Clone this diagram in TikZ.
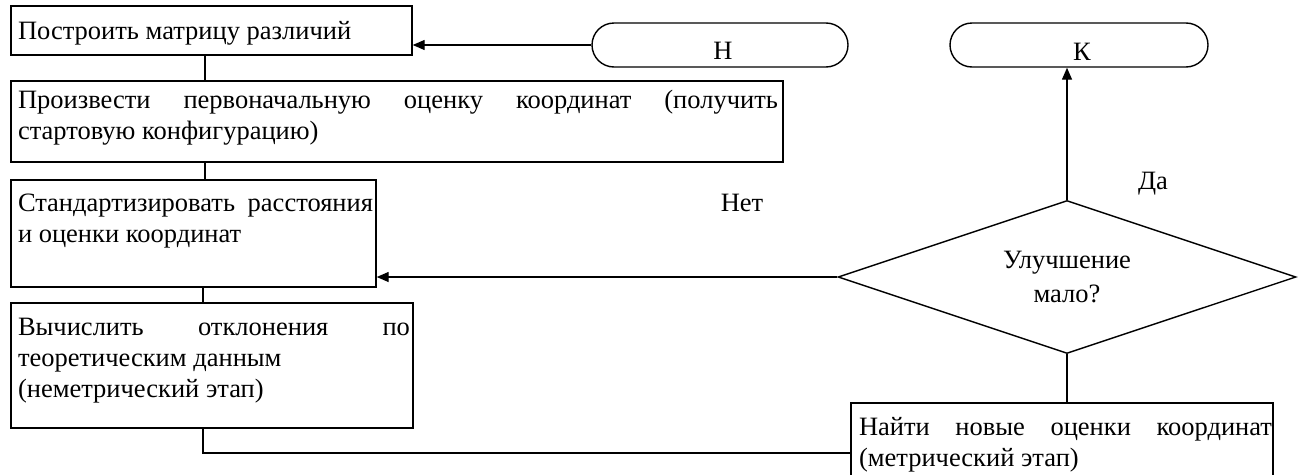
\documentclass[tikz,border=0pt]{standalone}
\usepackage{fontspec}
\setmainfont{Liberation Serif}
\usetikzlibrary{positioning,arrows.meta,shapes.geometric,fit}

\begin{document}
\begin{tikzpicture}[
  x=1pt, y=-1pt,
  line width=1.4pt,
  box/.style={draw, rectangle, inner sep=0pt},
  term/.style={draw, rectangle, rounded corners=22pt, inner sep=0pt},
  txt/.style={anchor=north west, inner sep=0pt, align=justify,
              font=\fontsize{26.5}{31}\selectfont},
  lbl/.style={anchor=base, inner sep=0pt, font=\fontsize{26.5}{31}\selectfont},
  cond/.style={draw, diamond, aspect=3, inner sep=0pt, minimum width=458pt,
               minimum height=153pt, align=center, font=\fontsize{26.5}{34}\selectfont},
  arrow/.style={-{Triangle[length=12pt,width=10pt]}}
]
  \useasboundingbox (0,0) rectangle (1300,474);
  \clip (0,0) rectangle (1300,474);

  \node[box, fit={(11,6) (412,55)}] (b1) {};
  \node[box, fit={(11,81) (783,162)}] (b2) {};
  \node[box, fit={(11,180) (376,287)}] (b3) {};
  \node[box, fit={(11,303) (413,428)}] (b4) {};
  \node[box, fit={(851,403) (1273,503)}] (b5) {};
  \node[term, fit={(592,23) (848,67)}] (tn) {};
  \node[term, fit={(950,23) (1208,67)}] (tk) {};
  \node[cond] (d) at (1067,277) {Улучшение\\мало?};

  \node[txt, text width=387pt] (t1) at ([shift={(7,11.3)}]b1.north west)
    {\strut Построить матрицу различий};
  \node[txt, text width=760pt] (t2) at ([shift={(7,5.3)}]b2.north west)
    {\strut Произвести первоначальную оценку координат (получить\linebreak стартовую конфигурацию)};
  \node[txt, text width=355pt] (t3) at ([shift={(7,9.3)}]b3.north west)
    {\strut Стандартизировать расстояния\linebreak и оценки координат};
  \node[txt, text width=392pt] (t4) at ([shift={(7,10.3)}]b4.north west)
    {\strut Вычислить отклонения по\linebreak теоретическим данным\newline (неметрический этап)};
  \node[txt, text width=413pt] (t5) at ([shift={(8,10.3)}]b5.north west)
    {\strut Найти новые оценки координат\linebreak (метрический этап)};

  \node[lbl] (ln) at (723,59) {Н};
  \node[lbl] (lk) at (1082,60) {К};
  \node[lbl] (no) at (742,211) {Нет};
  \node[lbl] (yes) at (1153,189) {Да};

  \coordinate (vx) at (205,0);
  \coordinate (vy) at (203,0);

  \draw[arrow] (tn.west) -- (tn.west -| b1.east);
  \draw (b1.south -| vx) -- (b2.north -| vx);
  \draw (b2.south -| vx) -- (b3.north -| vx);
  \draw (b3.south -| vy) -- (b4.north -| vy);
  \draw (b4.south -| vy) |- (b5.west);
  \draw (d.south) -- (d.south |- b5.north);
  \draw[arrow] (d.west) -- (d.west -| b3.east);
  \draw[arrow] (d.north) -- (d.north |- tk.south);
\end{tikzpicture}
\end{document}
